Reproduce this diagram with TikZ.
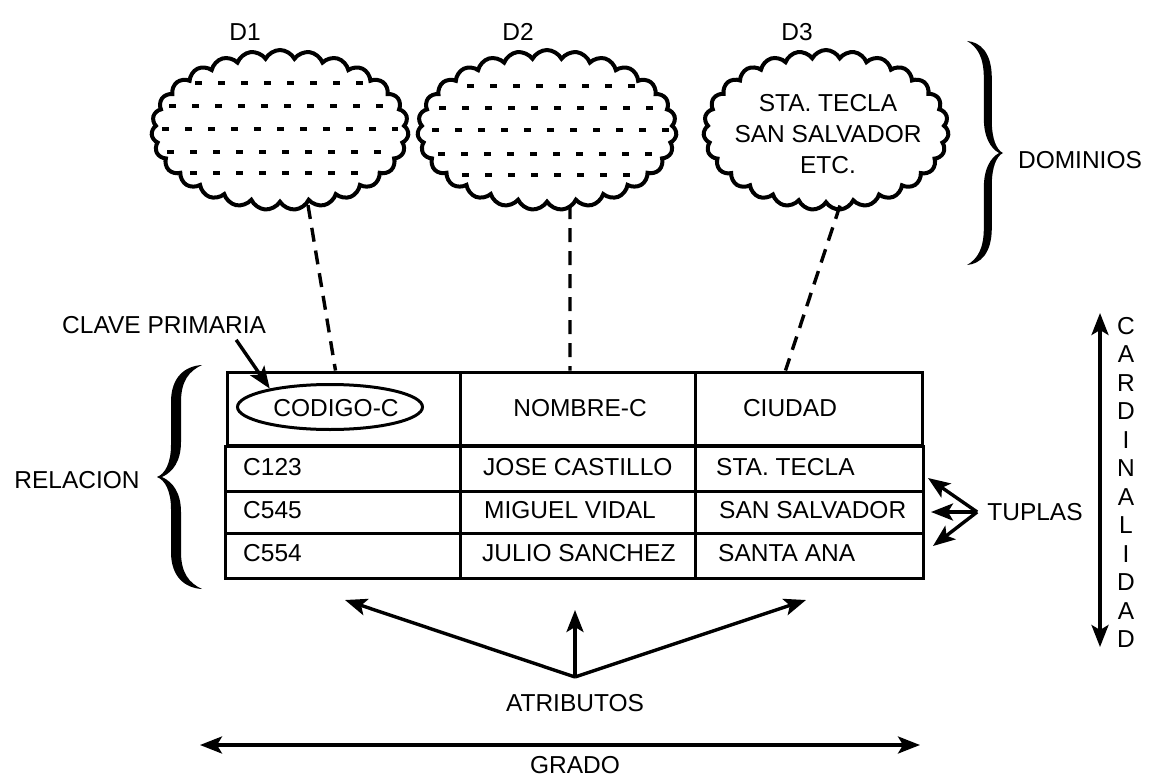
\documentclass[tikz,border=0pt]{standalone}
\usepackage{fontspec}
\setmainfont{Liberation Sans}
\usetikzlibrary{shapes.symbols,shapes.geometric,arrows.meta}
\begin{document}
\begin{tikzpicture}[x=1pt,y=-1pt,
  every node/.style={font=\fontsize{24.5}{29}\selectfont, inner sep=0pt},
  cloudbox/.style={cloud, cloud puffs=27, cloud puff arc=125, cloud ignores aspect,
    draw, line width=4pt, minimum width=#1, minimum height=160pt},
  dots/.style={line width=4pt, dash pattern=on 7pt off 16pt},
  link/.style={line width=3.4pt, dash pattern=on 14pt off 9pt},
  grid/.style={line width=3pt},
  arr/.style={line width=3.4pt, -{Stealth[length=22pt,width=17pt,inset=5pt]}},
  darr/.style={line width=3.4pt, {Stealth[length=22pt,width=17pt,inset=5pt]}-{Stealth[length=22pt,width=17pt,inset=5pt]}},
  cellbox/.style={draw, line width=3pt, minimum width=#1, minimum height=73pt},
  mybrace/.pic={
    \fill (45,-112) .. controls (28,-111) and (14,-100) .. (14,-75) -- (14,-32)
      .. controls (14,-14) and (8,-3) .. (0,0)
      .. controls (8,3) and (14,14) .. (14,32) -- (14,75)
      .. controls (14,100) and (28,111) .. (45,112)
      .. controls (32,106) and (24,96) .. (24,75) -- (24,35)
      .. controls (24,16) and (16,5) .. (5,0)
      .. controls (16,-5) and (24,-16) .. (24,-35) -- (24,-75)
      .. controls (24,-96) and (32,-106) .. (45,-112) -- cycle;
  }
]
\useasboundingbox (0,0) rectangle (1161,778);

% domain labels
\node (d1) at (245,32) {D1};
\node (d2) at (518,32) {D2};
\node (d3) at (797,32) {D3};

% clouds
\node[cloudbox=257pt] (c1) at (280,130) {};
\node[cloudbox=259pt] (c2) at (547,130) {};
\node[cloudbox=245pt] (c3) at (826,130) {};
\node[align=center, font=\fontsize{24.5}{31}\selectfont] (c3t) at (828,134)
  {STA. TECLA\\SAN SALVADOR\\ETC.};

% dotted rows inside clouds
\foreach \y/\a/\b in {83/195/365, 106/169/385, 129/162/398, 152/167/385, 173/190/363}
  \draw[dots] (\a,\y) -- (\b,\y);
\foreach \y/\a/\b in {86/467/635, 108/439/655, 130/432/670, 154/438/655, 175/462/633}
  \draw[dots] (\a,\y) -- (\b,\y);

% DOMINIOS brace
\pic[xscale=-0.8] at (1003,153) {mybrace};
\node (dom) at (1080,160) {DOMINIOS};

% table
\node[cellbox=233pt] (h1) at (343.5,408.5) {};
\node[cellbox=235pt] (h2) at (577.5,408.5) {};
\node[cellbox=227pt] (h3) at (808.5,408.5) {};
\draw[grid] (h1.south west) rectangle (h3.south east |- 0,578);
\draw[grid] (227,491) -- (922,491);
\draw[grid] (227,533) -- (922,533);
\draw[grid] (460,445) -- (460,578);
\draw[grid] (695,445) -- (695,578);

\node[ellipse, draw, line width=3pt, minimum width=185pt, minimum height=45pt] (kell) at (330,407) {};
\node (k1) at (336,408) {CODIGO-C};
\node (k2) at (580,408) {NOMBRE-C};
\node (k3) at (790,408) {CIUDAD};

\node[anchor=west] (r11) at (243,467) {C123};
\node[anchor=west] (r21) at (243,510) {C545};
\node[anchor=west] (r31) at (243,553) {C554};
\node[anchor=west] (r12) at (483,467) {JOSE CASTILLO};
\node[anchor=west] (r22) at (484,510) {MIGUEL VIDAL};
\node[anchor=west] (r32) at (482,553) {JULIO SANCHEZ};
\node[anchor=west] (r13) at (716,467) {STA. TECLA};
\node[anchor=west] (r23) at (719,510) {SAN SALVADOR};
\node[anchor=west] (r33) at (718,553) {SANTA ANA};

% dashed links cloud -> column
\draw[link] ([xshift=28pt]c1.south) -- ([xshift=-8pt]h1.north);
\draw[link] ([xshift=23pt]c2.south) -- ([xshift=-7.5pt]h2.north);
\draw[link] ([xshift=14pt]c3.south) -- ([xshift=-23pt]h3.north);

% clave primaria
\node[anchor=west] (cp) at (62,325) {CLAVE PRIMARIA};
\draw[arr] ([xshift=-30pt,yshift=-6pt]cp.south east) -- (kell.163);

% relacion brace
\pic at (157,477) {mybrace};
\node (rel) at (77,480) {RELACION};

% tuplas
\node (tup) at (1035,512) {TUPLAS};
\coordinate (tu1) at (928,478);
\coordinate (tu2) at (931,512);
\coordinate (tu3) at (933,546);
\draw[arr] ([xshift=-10pt]tup.west) -- (tu1);
\draw[arr] ([xshift=-10pt]tup.west) -- (tu2);
\draw[arr] ([xshift=-10pt]tup.west) -- (tu3);

% cardinalidad
\coordinate (ca1) at (1100,313);
\coordinate (ca2) at (1100,647);
\draw[darr] (ca1) -- (ca2);
\foreach \l [count=\i from 0] in {C,A,R,D,I,N,A,L,I,D,A,D}
  \node (card\i) at (1126,326+28.5*\i) {\l};

% atributos
\node (atr) at (575,703) {ATRIBUTOS};
\coordinate (ao) at (575,677);
\coordinate (at1) at (345,600);
\coordinate (at2) at (575,610);
\coordinate (at3) at (806,600);
\draw[arr] (ao) -- (at1);
\draw[arr] (ao) -- (at2);
\draw[arr] (ao) -- (at3);

% grado
\node (gr) at (575,765) {GRADO};
\coordinate (g1) at (200,745);
\coordinate (g2) at (920,745);
\draw[darr] (g1) -- (g2);
\end{tikzpicture}
\end{document}
